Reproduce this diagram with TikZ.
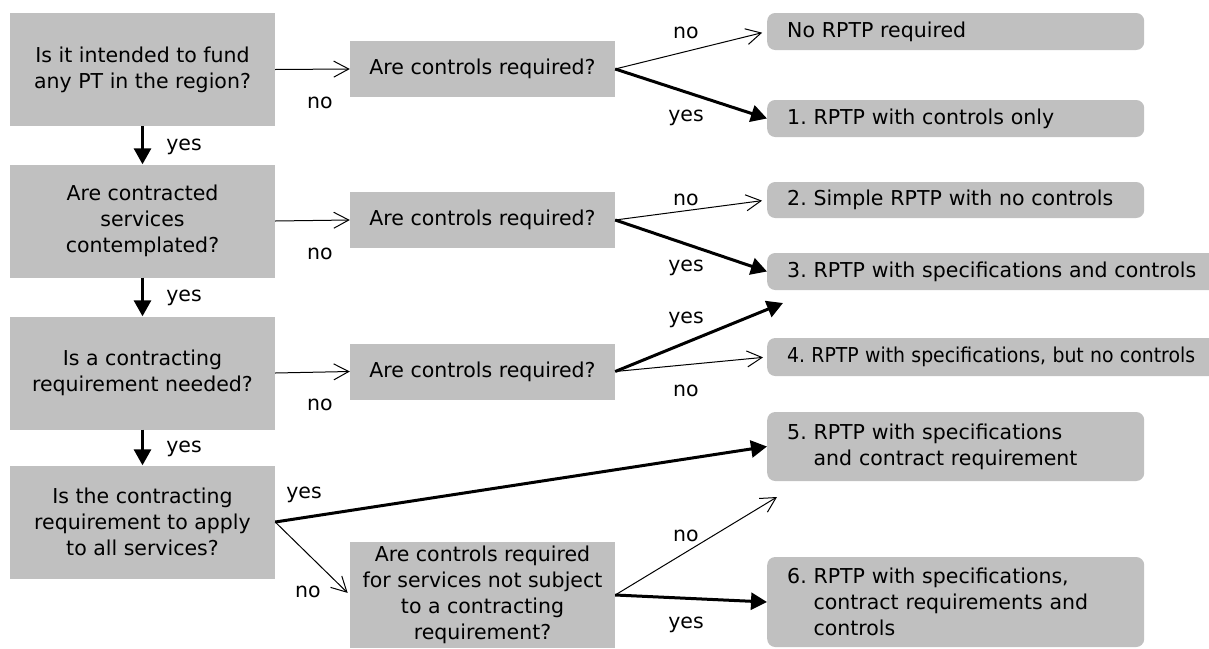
\documentclass[tikz,border=0pt]{standalone}
\usepackage{fontspec}
\usepackage{graphicx}
\setmainfont{DejaVu Sans}
\usetikzlibrary{arrows.meta}

\definecolor{boxgray}{RGB}{192,192,192}

\begin{document}
\frenchspacing
\begin{tikzpicture}[x=1pt,y=-1pt,
        every node/.style={font=\fontsize{20.5pt}{26pt}\selectfont},
        qbox/.style={fill=boxgray, inner sep=0pt, align=center},
        lbox/.style={qbox, minimum width=265pt, minimum height=113pt},
        mbox/.style={qbox, minimum width=265pt, minimum height=56pt},
        rbox/.style={fill=boxgray, rounded corners=8pt, inner xsep=20pt, inner ysep=0pt,
                     text width=337pt, align=left, anchor=west},
        wbox/.style={rbox, text width=470pt},
        lbl/.style={inner sep=0pt},
        noarr/.style={-{Straight Barb[length=15pt,width=16pt]}, line width=1pt},
        yesarr/.style={-{Triangle[length=16pt,width=17pt]}, line width=3pt}]
    \useasboundingbox (0,0) rectangle (1209,648);

    % questions on the left
    \node[lbox] (A) at (142.5,69.5) {Is it intended to fund\\any PT in the region?};
    \node[lbox] (B) at (142.5,221) {Are contracted\\services\\contemplated?};
    \node[lbox] (C) at (142.5,373) {Is a contracting\\requirement needed?};
    \node[lbox] (D) at (142.5,522) {Is the contracting\\requirement to apply\\to all services?};

    % controls questions
    \node[mbox] (q1) at (482.5,69) {Are controls required?};
    \node[mbox] (q2) at (482.5,220) {Are controls required?};
    \node[mbox] (q3) at (482.5,371.5) {Are controls required?};
    \node[qbox, minimum width=265pt, minimum height=106pt] (qE) at (482.5,595)
        {Are controls required\\for services not subject\\to a contracting\\requirement?};

    % outcomes
    \node[rbox, minimum height=37pt] (r0) at (767,31.5) {No RPTP required};
    \node[rbox, minimum height=37pt] (r1) at (767,118.5) {1. RPTP with controls only};
    \node[rbox, minimum height=36pt] (r2) at (767,200) {2. Simple RPTP with no controls};
    \node[wbox, minimum height=37pt] (r3) at (767,271.5) {3. RPTP with specifications and controls};
    \node[wbox, minimum height=38pt] (r4) at (767,357)
        {\scalebox{0.92}[1]{4. RPTP with specifications, but no controls}};
    \node[rbox, minimum height=69pt] (r5) at (767,446.5)
        {5. RPTP with specifications\\\hphantom{5. }and contract requirement};
    \node[rbox, minimum height=90pt] (r6) at (767,602)
        {6. RPTP with specifications,\\\hphantom{6. }contract requirements and\\\hphantom{6. }controls};

    \coordinate (t3) at (783,303);
    \coordinate (t5) at (777,497);

    % yes down the left
    \draw[yesarr] (A) -- (B);
    \draw[yesarr] (B) -- (C);
    \draw[yesarr] (C) -- (D);
    \node[lbl] (y1) at (184,147) {yes};
    \node[lbl] (y2) at (184,298) {yes};
    \node[lbl] (y3) at (184,449) {yes};

    % no to the controls questions
    \draw[noarr] (A.east) -- (q1.west);
    \draw[noarr] (B.east) -- (q2.west);
    \draw[noarr] (C.east) -- (q3.west);
    \node[lbl] (n1) at (320,103) {no};
    \node[lbl] (n2) at (320,254) {no};
    \node[lbl] (n3) at (320,405) {no};

    \draw[noarr, shorten >=5pt] (q1.east) -- (r0.west);
    \draw[yesarr] (q1.east) -- (r1.west);
    \node[lbl] (n4) at (686,33) {no};
    \node[lbl] (y4) at (686,118) {yes};

    \draw[noarr, shorten >=5pt] (q2.east) -- (r2.west);
    \draw[yesarr] (q2.east) -- (r3.west);
    \node[lbl] (n5) at (686,200) {no};
    \node[lbl] (y5) at (686,268) {yes};

    \draw[yesarr] (q3.east) -- (t3);
    \draw[noarr, shorten >=4pt] (q3.east) -- (r4.west);
    \node[lbl] (y6) at (686,320) {yes};
    \node[lbl] (n6) at (686,391) {no};

    % all services or not
    \draw[yesarr] (D.east) -- (r5.west);
    \draw[noarr, shorten >=3pt] (D.east) -- (qE.west);
    \node[lbl] (y7) at (304,495) {yes};
    \node[lbl] (n7) at (308,592) {no};

    \draw[noarr] (qE.east) -- (t5);
    \draw[yesarr] (qE.east) -- (r6.west);
    \node[lbl] (n8) at (686,536) {no};
    \node[lbl] (y8) at (686,625) {yes};

\end{tikzpicture}
\end{document}
